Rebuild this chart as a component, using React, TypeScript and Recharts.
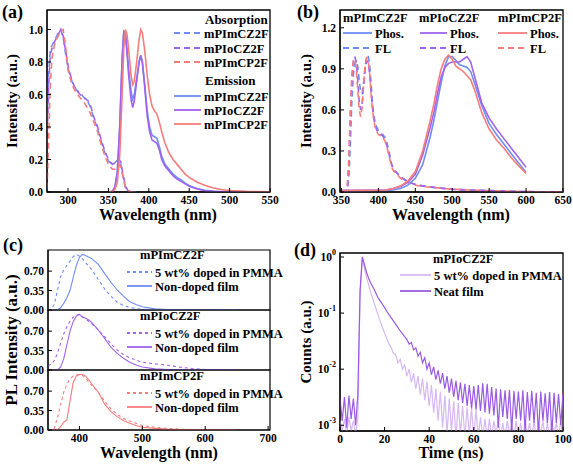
import React from 'react';
import { LineChart, Line, XAxis, YAxis, ReferenceArea } from 'recharts';

// ---- colours
const BLUE = '#6f8ef4';
const PURPLE = '#a063ee';
const RED = '#f87c7c';
const LIGHT = '#d8b8f4';
const NEAT = '#9b5ae4';
const FONT = '"Liberation Serif", "Times New Roman", serif';

// ---- (a) absorption / emission
const absWl = [274, 276, 278, 280, 283, 286, 289, 291, 294, 297, 300, 305, 310, 315, 320, 325, 328, 332, 336, 340, 345, 350, 355, 358, 362, 365, 368, 371, 374, 378, 385];
const absCZ = [0.4, 0.72, 0.87, 0.9, 0.93, 0.96, 0.99, 1.0, 0.95, 0.85, 0.76, 0.68, 0.63, 0.61, 0.58, 0.55, 0.52, 0.45, 0.4, 0.33, 0.25, 0.19, 0.17, 0.18, 0.2, 0.18, 0.1, 0.03, 0.01, 0, 0];
const absOCZ = [0.3, 0.65, 0.84, 0.88, 0.92, 0.95, 0.98, 1.0, 0.96, 0.87, 0.78, 0.68, 0.63, 0.6, 0.58, 0.56, 0.53, 0.46, 0.41, 0.34, 0.26, 0.2, 0.17, 0.18, 0.2, 0.19, 0.11, 0.04, 0.01, 0, 0];
const absCP = [0.02, 0.3, 0.65, 0.82, 0.9, 0.94, 0.97, 0.99, 1.0, 0.9, 0.75, 0.66, 0.61, 0.58, 0.55, 0.51, 0.48, 0.43, 0.38, 0.31, 0.23, 0.17, 0.14, 0.14, 0.17, 0.16, 0.09, 0.03, 0.01, 0, 0];

const emWl = [350, 355, 358, 361, 364, 367, 369, 371, 373, 375, 378, 380, 382, 385, 388, 390, 392, 395, 398, 401, 404, 407, 410, 413, 416, 420, 425, 430, 435, 440, 445, 450, 460, 470, 480, 490, 500, 520, 550];
const emCZ = [0, 0.005, 0.03, 0.12, 0.4, 0.82, 0.99, 0.98, 0.88, 0.76, 0.62, 0.57, 0.6, 0.7, 0.8, 0.84, 0.8, 0.66, 0.5, 0.4, 0.35, 0.34, 0.33, 0.28, 0.22, 0.17, 0.14, 0.11, 0.09, 0.075, 0.055, 0.04, 0.02, 0.01, 0.005, 0.003, 0.002, 0.001, 0];
const emOCZ = [0, 0.005, 0.03, 0.12, 0.4, 0.82, 0.98, 0.97, 0.86, 0.72, 0.57, 0.52, 0.56, 0.68, 0.8, 0.84, 0.8, 0.64, 0.47, 0.37, 0.32, 0.31, 0.3, 0.26, 0.2, 0.16, 0.13, 0.1, 0.08, 0.065, 0.05, 0.035, 0.018, 0.008, 0.004, 0.002, 0.001, 0, 0];
const emCP = [0, 0.003, 0.015, 0.06, 0.22, 0.6, 0.88, 1.0, 0.97, 0.88, 0.72, 0.66, 0.68, 0.8, 0.94, 1.0, 0.98, 0.87, 0.72, 0.6, 0.53, 0.5, 0.48, 0.43, 0.37, 0.3, 0.24, 0.2, 0.17, 0.14, 0.11, 0.09, 0.06, 0.04, 0.025, 0.015, 0.009, 0.004, 0.001];

// ---- (b) phosphorescence / fluorescence
const phWl = [350, 380, 410, 420, 430, 440, 450, 460, 470, 475, 480, 485, 490, 495, 500, 505, 510, 515, 520, 525, 530, 540, 550, 560, 570, 580, 590, 600];
const phCZ = [0.01, 0.01, 0.012, 0.015, 0.025, 0.05, 0.1, 0.2, 0.4, 0.52, 0.66, 0.8, 0.92, 0.99, 0.99, 0.96, 0.93, 0.92, 0.91, 0.88, 0.8, 0.63, 0.5, 0.42, 0.35, 0.28, 0.21, 0.145];
const phOCZ = [0.01, 0.012, 0.015, 0.025, 0.04, 0.07, 0.13, 0.27, 0.47, 0.58, 0.72, 0.84, 0.91, 0.94, 0.95, 0.95, 0.95, 0.97, 0.99, 0.95, 0.85, 0.65, 0.54, 0.46, 0.39, 0.32, 0.25, 0.18];
const phCP = [0.01, 0.012, 0.015, 0.025, 0.045, 0.08, 0.15, 0.3, 0.52, 0.64, 0.78, 0.9, 0.97, 1.0, 0.97, 0.92, 0.9, 0.88, 0.85, 0.82, 0.75, 0.58, 0.46, 0.38, 0.32, 0.25, 0.19, 0.135];

const flWl = [350, 355, 358, 360, 362, 364, 366, 368, 370, 372, 374, 376, 378, 380, 382, 384, 386, 388, 390, 392, 394, 396, 398, 400, 403, 406, 409, 412, 415, 418, 421, 425, 430, 440, 450, 460, 480, 500, 520, 550, 580, 600, 650];
const flCZ = [0, 0, 0.02, 0.1, 0.35, 0.65, 0.85, 0.94, 0.96, 0.92, 0.82, 0.73, 0.72, 0.8, 0.92, 0.98, 1.0, 0.94, 0.8, 0.65, 0.55, 0.5, 0.47, 0.45, 0.43, 0.42, 0.4, 0.35, 0.28, 0.2, 0.16, 0.14, 0.11, 0.075, 0.055, 0.045, 0.03, 0.02, 0.015, 0.01, 0.005, 0.003, 0];
const flOCZ = [0, 0, 0.04, 0.2, 0.55, 0.82, 0.95, 0.99, 0.95, 0.82, 0.66, 0.6, 0.65, 0.78, 0.9, 0.96, 0.95, 0.87, 0.74, 0.62, 0.53, 0.48, 0.45, 0.43, 0.42, 0.41, 0.38, 0.33, 0.26, 0.2, 0.16, 0.14, 0.11, 0.075, 0.055, 0.045, 0.03, 0.02, 0.015, 0.01, 0.005, 0.003, 0];
const flCP = [0, 0, 0.05, 0.25, 0.6, 0.85, 0.96, 0.97, 0.9, 0.75, 0.6, 0.55, 0.62, 0.78, 0.92, 0.98, 0.97, 0.88, 0.72, 0.6, 0.52, 0.46, 0.44, 0.42, 0.41, 0.4, 0.37, 0.32, 0.25, 0.18, 0.15, 0.13, 0.1, 0.07, 0.05, 0.04, 0.03, 0.02, 0.015, 0.01, 0.005, 0.003, 0];

// ---- (c) film PL, doped vs non-doped
const plWl = [350, 355, 360, 365, 370, 375, 380, 385, 390, 395, 400, 405, 410, 415, 420, 430, 440, 450, 460, 470, 480, 490, 500, 520, 540, 560, 580, 600, 650];
const dopCZ = [0, 0.01, 0.1, 0.35, 0.6, 0.72, 0.8, 0.88, 0.96, 1.0, 0.97, 0.92, 0.85, 0.78, 0.72, 0.55, 0.38, 0.25, 0.14, 0.08, 0.045, 0.025, 0.015, 0.005, 0.002, 0, 0, 0, 0];
const filmCZ = [0, 0, 0, 0, 0.04, 0.12, 0.22, 0.35, 0.58, 0.8, 0.95, 1.0, 0.98, 0.95, 0.92, 0.82, 0.66, 0.5, 0.36, 0.25, 0.15, 0.1, 0.06, 0.02, 0.008, 0.003, 0, 0, 0];
const dopOCZ = [0.08, 0.1, 0.17, 0.3, 0.48, 0.65, 0.78, 0.88, 0.95, 0.99, 1.0, 0.96, 0.92, 0.87, 0.83, 0.72, 0.6, 0.47, 0.36, 0.28, 0.22, 0.18, 0.14, 0.11, 0.085, 0.05, 0.025, 0.01, 0];
const filmOCZ = [0, 0, 0, 0, 0.05, 0.2, 0.45, 0.7, 0.87, 0.97, 1.0, 0.95, 0.93, 0.9, 0.85, 0.72, 0.57, 0.41, 0.3, 0.21, 0.14, 0.09, 0.055, 0.02, 0.008, 0.003, 0, 0, 0];
const dopCP = [0, 0.01, 0.03, 0.22, 0.45, 0.68, 0.82, 0.92, 0.97, 0.99, 1.0, 0.98, 0.93, 0.86, 0.8, 0.68, 0.52, 0.38, 0.28, 0.21, 0.16, 0.12, 0.08, 0.05, 0.03, 0.015, 0.008, 0.003, 0];
const filmCP = [0, 0, 0, 0, 0.06, 0.14, 0.18, 0.52, 0.85, 0.97, 1.0, 1.0, 0.97, 0.9, 0.82, 0.68, 0.47, 0.33, 0.24, 0.17, 0.12, 0.08, 0.05, 0.03, 0.015, 0.006, 0.002, 0, 0];

// ---- (d) transient decay of mPIoCZ2F
const timeNs = Array.from({ length: 101 }, (_, i) => i);
const decayDoped = [
  0.0012, 0.0008, 0.0013, 0.0007, 0.0014, 0.0008, 0.0012, 0.0007, 0.0013,
  0.22, 0.95, 0.62, 0.42, 0.30, 0.22, 0.165, 0.125, 0.095, 0.072, 0.056, 0.044, 0.035, 0.028, 0.024, 0.019, 0.018, 0.013, 0.015, 0.010, 0.012, 0.0075,
  0.010, 0.0058, 0.0085, 0.0045, 0.0075, 0.0035, 0.0068, 0.0028, 0.0060, 0.0022,
  0.0052, 0.0017, 0.0045, 0.0012, 0.0040, 0.0009, 0.0034, 0.0007, 0.0030, 0.0008,
  0.0027, 0.0006, 0.0025, 0.0007, 0.0022, 0.0006, 0.0021, 0.0007, 0.0020, 0.0006,
  0.0019, 0.0006, 0.0014, 0.0006, 0.0013, 0.0006, 0.0013, 0.0006, 0.0012, 0.0007,
  0.0012, 0.0006, 0.0011, 0.0006, 0.0012, 0.0007, 0.0011, 0.0006, 0.0012, 0.0006,
  0.0011, 0.0006, 0.0012, 0.0007, 0.0011, 0.0006, 0.0012, 0.0006, 0.0011, 0.0007,
  0.0012, 0.0006, 0.0011, 0.0006, 0.0012, 0.0007, 0.0011, 0.0006, 0.0012, 0.0006,
];
const decayNeat = [
  0.0030, 0.0012, 0.0032, 0.0009, 0.0034, 0.0013, 0.0030, 0.0010, 0.0035,
  0.25, 1.0, 0.72, 0.52, 0.40, 0.33, 0.28, 0.23, 0.19, 0.165, 0.145, 0.125, 0.108, 0.094, 0.082, 0.072, 0.063, 0.055, 0.048, 0.043, 0.038, 0.034,
  0.028, 0.030, 0.022, 0.024, 0.017, 0.020, 0.013, 0.016, 0.010, 0.013,
  0.008, 0.011, 0.0065, 0.0095, 0.0055, 0.0085, 0.0045, 0.0075, 0.0038, 0.0068,
  0.0032, 0.0062, 0.0028, 0.0058, 0.0025, 0.0055, 0.0022, 0.0052, 0.0020, 0.0050,
  0.0019, 0.0052, 0.0018, 0.0056, 0.0017, 0.0055, 0.0016, 0.0048, 0.0015, 0.0045,
  0.0009, 0.0044, 0.0014, 0.0042, 0.0013, 0.0043, 0.0008, 0.0041, 0.0013, 0.0040,
  0.0012, 0.0042, 0.0008, 0.0039, 0.0012, 0.0041, 0.0011, 0.0038, 0.0007, 0.0040,
  0.0012, 0.0037, 0.0011, 0.0039, 0.0007, 0.0038, 0.0011, 0.0036, 0.0010, 0.0037,
];

// ---- ticks
const ticksA = [300, 350, 400, 450, 500, 550];
const ticksAY = [0, 0.2, 0.4, 0.6, 0.8, 1.0];
const ticksB = [350, 400, 450, 500, 550, 600, 650];
const ticksBY = [0, 0.3, 0.6, 0.9, 1.2];
const ticksC = [400, 500, 600, 700];
const ticksCY = [0, 0.35, 0.7];
const ticksD = [0, 20, 40, 60, 80, 100];
const ticksDY = [0.001, 0.01, 0.1, 1];

const pts = (xs: number[], ys: number[]) => xs.map((x, i) => ({ x, y: ys[i] }));

const tickStyle = { fontSize: 11.5, fontWeight: 700, fill: '#000', fontFamily: FONT };
const axisCommon = { stroke: '#000', tickSize: -4, tickMargin: 8, tick: tickStyle, interval: 0 as const };

function LogTick(props: any) {
  const { x, y, payload } = props;
  const exp = Math.round(Math.log10(payload.value));
  return (
    <text x={x - 6} y={y + 4} textAnchor="end" style={tickStyle}>
      10<tspan dy={-6} fontSize={8}>{exp}</tspan>
    </text>
  );
}

function PanelA() {
  return (
    <LineChart width={280} height={230} margin={{ top: 10, right: 10, left: 17, bottom: 0 }}>
      <XAxis type="number" dataKey="x" domain={[274, 550]} ticks={ticksA} allowDataOverflow height={38} {...axisCommon} />
      <YAxis type="number" domain={[0, 1.12]} ticks={ticksAY} allowDataOverflow width={30} tickFormatter={(v: number) => v.toFixed(1)} {...axisCommon} />
      <ReferenceArea x1={274} x2={550} y1={0} y2={1.12} fill="none" stroke="#000" strokeWidth={1.3} />
      <Line data={pts(absWl, absCZ)} dataKey="y" stroke={BLUE} strokeWidth={1.6} strokeDasharray="6 4" dot={false} isAnimationActive={false} />
      <Line data={pts(absWl, absOCZ)} dataKey="y" stroke={PURPLE} strokeWidth={1.6} strokeDasharray="6 4" dot={false} isAnimationActive={false} />
      <Line data={pts(absWl, absCP)} dataKey="y" stroke={RED} strokeWidth={1.6} strokeDasharray="6 4" dot={false} isAnimationActive={false} />
      <Line data={pts(emWl, emCZ)} dataKey="y" stroke={BLUE} strokeWidth={1.6} dot={false} isAnimationActive={false} />
      <Line data={pts(emWl, emOCZ)} dataKey="y" stroke={PURPLE} strokeWidth={1.6} dot={false} isAnimationActive={false} />
      <Line data={pts(emWl, emCP)} dataKey="y" stroke={RED} strokeWidth={1.6} dot={false} isAnimationActive={false} />
    </LineChart>
  );
}

function PanelB() {
  return (
    <LineChart width={288} height={230} margin={{ top: 10, right: 10, left: 25, bottom: 0 }}>
      <XAxis type="number" dataKey="x" domain={[348, 650]} ticks={ticksB} allowDataOverflow height={38} {...axisCommon} />
      <YAxis type="number" domain={[0, 1.33]} ticks={ticksBY} allowDataOverflow width={30} tickFormatter={(v: number) => v.toFixed(1)} {...axisCommon} />
      <ReferenceArea x1={348} x2={650} y1={0} y2={1.33} fill="none" stroke="#000" strokeWidth={1.3} />
      <Line data={pts(flWl, flCZ)} dataKey="y" stroke={BLUE} strokeWidth={1.6} strokeDasharray="6 4" dot={false} isAnimationActive={false} />
      <Line data={pts(flWl, flOCZ)} dataKey="y" stroke={PURPLE} strokeWidth={1.6} strokeDasharray="6 4" dot={false} isAnimationActive={false} />
      <Line data={pts(flWl, flCP)} dataKey="y" stroke={RED} strokeWidth={1.6} strokeDasharray="6 4" dot={false} isAnimationActive={false} />
      <Line data={pts(phWl, phCZ)} dataKey="y" stroke={BLUE} strokeWidth={1.6} dot={false} isAnimationActive={false} />
      <Line data={pts(phWl, phOCZ)} dataKey="y" stroke={PURPLE} strokeWidth={1.6} dot={false} isAnimationActive={false} />
      <Line data={pts(phWl, phCP)} dataKey="y" stroke={RED} strokeWidth={1.6} dot={false} isAnimationActive={false} />
    </LineChart>
  );
}

function PanelCSub({ doped, film, color, last }: { doped: number[]; film: number[]; color: string; last?: boolean }) {
  return (
    <LineChart width={280} height={last ? 99 : 73} margin={{ top: 5, right: 10, left: 18, bottom: last ? 0 : 8 }}>
      <XAxis type="number" dataKey="x" domain={[350, 703]} ticks={ticksC} allowDataOverflow hide={!last} height={34} {...axisCommon} />
      <YAxis type="number" domain={[0, 1.08]} ticks={ticksCY} allowDataOverflow width={30} tickFormatter={(v: number) => v.toFixed(2)} {...axisCommon} />
      <ReferenceArea x1={350} x2={703} y1={0} y2={1.08} fill="none" stroke="#000" strokeWidth={1.2} />
      <Line data={pts(plWl, doped)} dataKey="y" stroke={color} strokeWidth={1.1} strokeDasharray="3 3" dot={false} isAnimationActive={false} />
      <Line data={pts(plWl, film)} dataKey="y" stroke={color} strokeWidth={1.1} dot={false} isAnimationActive={false} />
    </LineChart>
  );
}

function PanelD() {
  return (
    <LineChart width={288} height={226} margin={{ top: 10, right: 10, left: 25, bottom: 0 }}>
      <XAxis type="number" dataKey="x" domain={[0, 100]} ticks={ticksD} allowDataOverflow height={38} {...axisCommon} />
      <YAxis type="number" scale="log" domain={[0.00079, 1.18]} ticks={ticksDY} allowDataOverflow width={30} stroke="#000" tickSize={-4} interval={0} tick={<LogTick />} />
      <ReferenceArea x1={0} x2={100} y1={0.00079} y2={1.18} fill="none" stroke="#000" strokeWidth={1.3} />
      <Line data={pts(timeNs, decayDoped)} dataKey="y" stroke={LIGHT} strokeWidth={1.2} dot={false} isAnimationActive={false} />
      <Line data={pts(timeNs, decayNeat)} dataKey="y" stroke={NEAT} strokeWidth={1.2} dot={false} isAnimationActive={false} />
    </LineChart>
  );
}

const txt = { fontFamily: FONT, fontWeight: 700, fill: '#000' } as const;

function LegendRow({ x, y, color, dash, label, len = 27, size = 12.5 }: any) {
  return (
    <g>
      <line x1={x} x2={x + len} y1={y} y2={y} stroke={color} strokeWidth={1.8} strokeDasharray={dash} />
      <text x={x + len + 3} y={y + 4.5} style={{ ...txt, fontSize: size }}>{label}</text>
    </g>
  );
}

function Overlay() {
  const cBlocks = [
    { top: 0, name: 'mPImCZ2F', color: BLUE },
    { top: 61, name: 'mPIoCZ2F', color: PURPLE },
    { top: 121, name: 'mPImCP2F', color: RED },
  ];
  return (
    <svg width={573} height={464} style={{ position: 'absolute', left: 0, top: 0, pointerEvents: 'none' }}>
      {/* panel letters */}
      <text x={2} y={18} style={{ ...txt, fontSize: 18 }}>(a)</text>
      <text x={297} y={18} style={{ ...txt, fontSize: 18 }}>(b)</text>
      <text x={3} y={251} style={{ ...txt, fontSize: 18 }}>(c)</text>
      <text x={294} y={256} style={{ ...txt, fontSize: 18 }}>(d)</text>

      {/* axis titles */}
      <text x={158} y={220} textAnchor="middle" style={{ ...txt, fontSize: 16 }}>Wavelength (nm)</text>
      <text x={451} y={220} textAnchor="middle" style={{ ...txt, fontSize: 16 }}>Wavelength (nm)</text>
      <text x={159} y={458} textAnchor="middle" style={{ ...txt, fontSize: 16 }}>Wavelength (nm)</text>
      <text x={451} y={458} textAnchor="middle" style={{ ...txt, fontSize: 16 }}>Time (ns)</text>
      <text transform="translate(17,101) rotate(-90)" textAnchor="middle" style={{ ...txt, fontSize: 15 }}>Intensity (a.u.)</text>
      <text transform="translate(311,101) rotate(-90)" textAnchor="middle" style={{ ...txt, fontSize: 15 }}>Intensity (a.u.)</text>
      <text transform="translate(17,340) rotate(-90)" textAnchor="middle" style={{ ...txt, fontSize: 17 }}>PL Intensity (a.u.)</text>
      <text transform="translate(311,342) rotate(-90)" textAnchor="middle" style={{ ...txt, fontSize: 15 }}>Counts (a.u.)</text>

      {/* (a) legend */}
      <text x={205} y={24} style={{ ...txt, fontSize: 13 }}>Absorption</text>
      <LegendRow x={174} y={33} color={BLUE} dash="6 4" label="mPImCZ2F" />
      <LegendRow x={174} y={48} color={PURPLE} dash="6 4" label="mPIoCZ2F" />
      <LegendRow x={174} y={62} color={RED} dash="6 4" label="mPImCP2F" />
      <text x={205} y={85} style={{ ...txt, fontSize: 13 }}>Emission</text>
      <LegendRow x={174} y={96} color={BLUE} label="mPImCZ2F" />
      <LegendRow x={174} y={110} color={PURPLE} label="mPIoCZ2F" />
      <LegendRow x={174} y={124} color={RED} label="mPImCP2F" />

      {/* (b) legend */}
      <text x={343} y={22} style={{ ...txt, fontSize: 12.5 }}>mPImCZ2F</text>
      <text x={419} y={22} style={{ ...txt, fontSize: 12.5 }}>mPIoCZ2F</text>
      <text x={498} y={22} style={{ ...txt, fontSize: 12.5 }}>mPImCP2F</text>
      <LegendRow x={343} y={33} color={BLUE} label="Phos." len={29} />
      <LegendRow x={343} y={48} color={BLUE} dash="6 4" label="FL" len={29} />
      <LegendRow x={420} y={33} color={PURPLE} label="Phos." len={27} />
      <LegendRow x={420} y={48} color={PURPLE} dash="6 4" label="FL" len={27} />
      <LegendRow x={498} y={33} color={RED} label="Phos." len={29} />
      <LegendRow x={498} y={48} color={RED} dash="6 4" label="FL" len={29} />

      {/* (c) legends */}
      {cBlocks.map((b) => (
        <g key={b.name}>
          <text x={140} y={259 + b.top} style={{ ...txt, fontSize: 12.5 }}>{b.name}</text>
          <LegendRow x={127} y={272 + b.top} color={b.color} dash="3 3" label="5 wt% doped in PMMA" len={25} />
          <LegendRow x={127} y={286 + b.top} color={b.color} label="Non-doped film" len={25} />
        </g>
      ))}

      {/* (d) legend */}
      <text x={433} y={263} style={{ ...txt, fontSize: 12.5 }}>mPIoCZ2F</text>
      <LegendRow x={400} y={275} color={LIGHT} label="5 wt% doped in PMMA" len={31} />
      <LegendRow x={400} y={291} color={NEAT} label="Neat film" len={31} />
    </svg>
  );
}

export default function App() {
  return (
    <div style={{ position: 'absolute', left: 0, top: 0, width: 573, height: 464, background: '#fff', overflow: 'hidden', fontFamily: FONT }}>
      <div style={{ position: 'absolute', left: 0, top: 0 }}><PanelA /></div>
      <div style={{ position: 'absolute', left: 285, top: 0 }}><PanelB /></div>
      <div style={{ position: 'absolute', left: 0, top: 245 }}><PanelCSub doped={dopCZ} film={filmCZ} color={BLUE} /></div>
      <div style={{ position: 'absolute', left: 0, top: 305 }}><PanelCSub doped={dopOCZ} film={filmOCZ} color={PURPLE} /></div>
      <div style={{ position: 'absolute', left: 0, top: 365 }}><PanelCSub doped={dopCP} film={filmCP} color={RED} last /></div>
      <div style={{ position: 'absolute', left: 285, top: 243 }}><PanelD /></div>
      <Overlay />
    </div>
  );
}
